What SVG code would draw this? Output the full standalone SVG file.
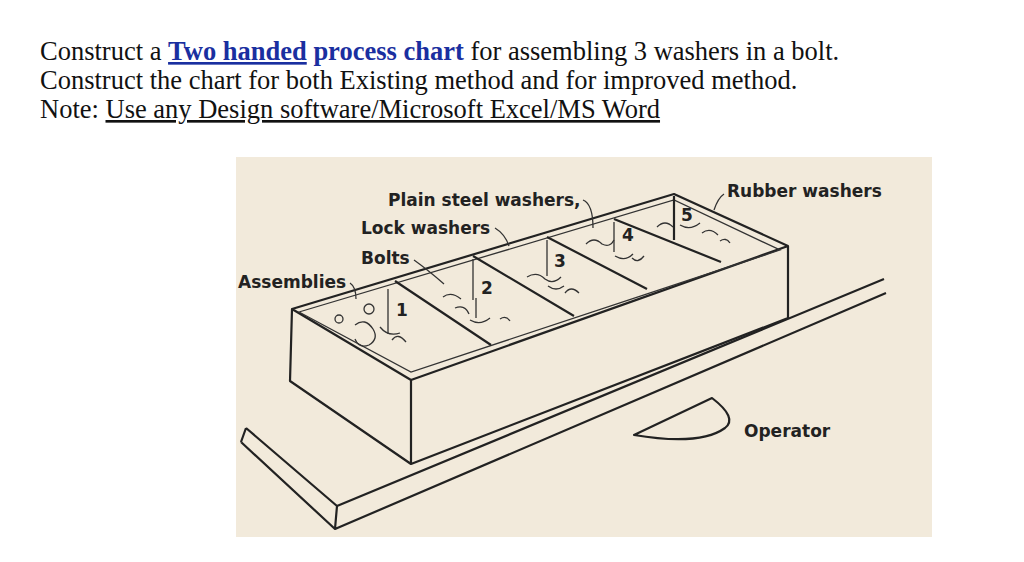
<svg xmlns="http://www.w3.org/2000/svg" width="1024" height="562" viewBox="0 0 1024 562">
<style>
.h{font-family:"Liberation Serif",serif;font-size:26.5px;fill:#111}
.b{fill:#1a2fa0;font-weight:bold}
.l{font-family:"DejaVu Sans","Liberation Sans",sans-serif;font-size:17px;fill:#222;font-weight:bold}
.s{fill:none;stroke:#222;stroke-width:2.2;stroke-linejoin:round}
.t{fill:none;stroke:#333;stroke-width:1.3}
</style>
<rect width="1024" height="562" fill="#fff"/>
<text class="h" x="40" y="60">Construct a <tspan class="b" text-decoration="underline">Two handed</tspan> <tspan class="b">process chart</tspan> for assembling 3 washers in a bolt.</text>
<text class="h" x="40" y="89">Construct the chart for both Existing method and for improved method.</text>
<text class="h" x="40" y="118">Note: <tspan text-decoration="underline">Use any Design software/Microsoft Excel/MS Word</tspan></text>
<g id="scene">
<rect x="236" y="157" width="696" height="380" fill="#f2eadb"/>
<path class="s" d="M246,428 L337,506 L884,279 M241,442 L335,529 L886,293 M337,506 L335,529 M246,428 L241,442"/>
<path class="s" d="M292,309 L674,194 L788,246 L788,318 L411,464 L290,381 Z M292,309 L411,380 L788,246 M411,380 L411,464" fill="#f2eadb"/>
<path class="t" d="M299,312 L674,200 L780,250 L411,372 Z"/>
<path class="s" d="M395,281 L491,345 M473,256 L574,316 M547,237 L647,289 M614,219 L721,262 M674,196 L674,240"/>
<path class="t" d="M388,289 L388,334 M473,259 L473,300 M547,240 L547,276 M614,222 L614,252"/>
<g class="t">
<circle cx="339" cy="319" r="4"/><circle cx="369" cy="309" r="5"/><path d="M355,325 q10,-8 18,4 q6,10 -4,16 q-10,4 -14,-6 M380,327 q8,10 20,6 M392,340 q6,-8 14,2"/>
<path d="M443,297 q8,-6 18,2 M455,308 q10,-4 14,6 M476,298 l0,20 M470,320 q10,6 20,-2 M500,319 q6,-4 10,2"/>
<path d="M527,277 q10,-6 18,2 q8,6 16,-2 M548,286 q8,6 16,0 M565,293 q6,-8 14,0"/>
<path d="M586,244 q8,-8 16,0 q8,4 12,-4 M615,256 q10,6 18,-2 M632,258 q6,6 12,-2"/>
<path d="M657,227 q8,-8 16,0 M680,225 q10,6 20,-2 M702,233 q8,-6 16,2 M720,241 q6,-4 10,2"/>
</g>
<path class="t" d="M350,283 q6,4 6,16 M414,260 q14,10 30,24 M495,228 q10,6 14,18 M583,200 q10,4 10,28 M724,194 q-6,4 -10,16"/>
<path class="s" d="M634,435 L712,398 Q738,418 725,428 Q700,446 634,435 Z"/>
<text class="l" x="388" y="206">Plain steel washers,</text>
<text class="l" x="361" y="234">Lock washers</text>
<text class="l" x="361" y="264">Bolts</text>
<text class="l" x="238" y="288">Assemblies</text>
<text class="l" x="727" y="197">Rubber washers</text>
<text class="l" x="744" y="437">Operator</text>
<text class="l" x="396" y="316" font-size="15">1</text>
<text class="l" x="481" y="294" font-size="15">2</text>
<text class="l" x="554" y="267" font-size="15">3</text>
<text class="l" x="622" y="241" font-size="15">4</text>
<text class="l" x="681" y="221" font-size="15">5</text>
</g>
</svg>
